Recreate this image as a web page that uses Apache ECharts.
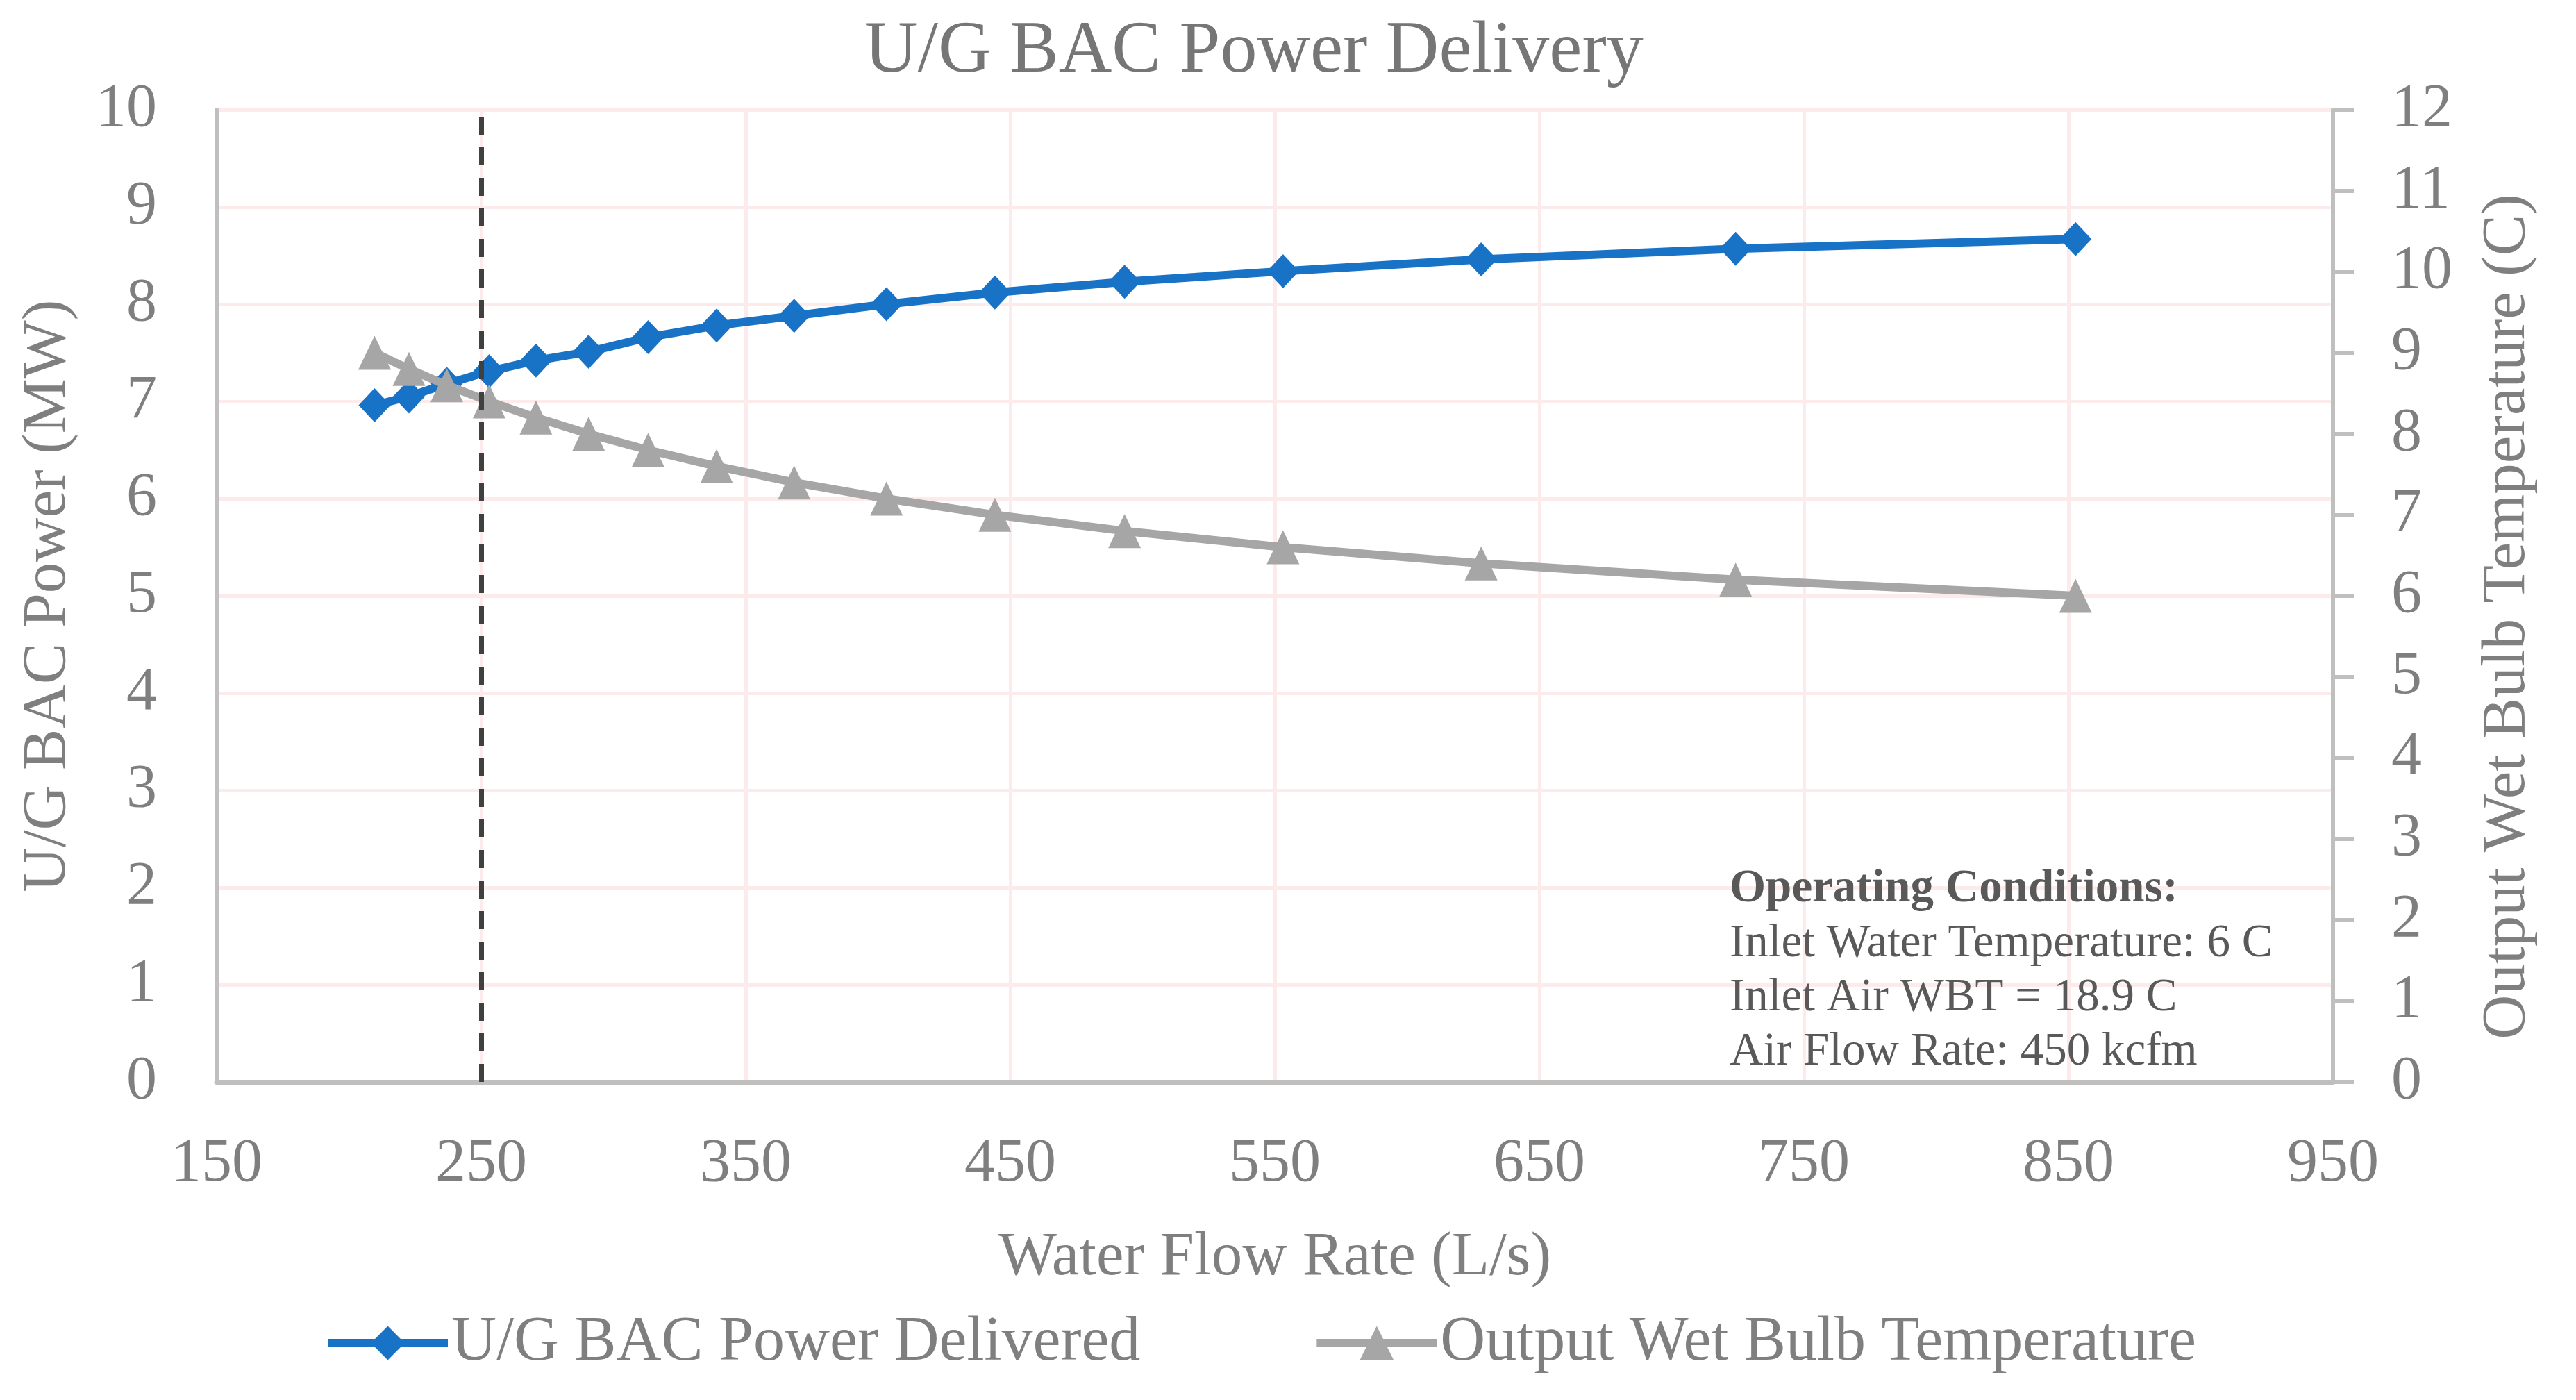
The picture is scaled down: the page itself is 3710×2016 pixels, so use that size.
<!DOCTYPE html>
<html><head><meta charset="utf-8">
<script src="https://cdn.jsdelivr.net/npm/echarts@6/dist/echarts.min.js"></script>
<style>html,body{margin:0;padding:0;background:#fff}#c{width:3710px;height:2016px}</style>
</head><body><div id="c"></div>
<script>
// ---- data ----
const flowRate = [209.7, 222.7, 237, 253, 270.7, 290.6, 313.1, 339, 368.3, 403.2, 444.2, 493.2, 553.1, 628, 724.2, 852.7];
const powerMW  = [6.96, 7.05, 7.18, 7.31, 7.42, 7.51, 7.66, 7.78, 7.88, 8.00, 8.12, 8.23, 8.34, 8.46, 8.57, 8.67];
const wetBulbC = [9.0, 8.8, 8.6, 8.4, 8.2, 8.0, 7.8, 7.6, 7.4, 7.2, 7.0, 6.8, 6.6, 6.4, 6.2, 6.0];
const designFlow = 250;
const xRange = [150, 950, 100];
const powerRange = [0, 10, 1];
const tempRange = [0, 12, 1];
const seriesNames = ['U/G BAC Power Delivered', 'Output Wet Bulb Temperature'];
const titleText = 'U/G BAC Power Delivery';
const xName = 'Water Flow Rate (L/s)';
const yLeftName = 'U/G BAC Power (MW)';
const yRightName = 'Output Wet Bulb Temperature (C)';
const noteTitle = 'Operating Conditions:';
const noteLines = ['Inlet Water Temperature: 6 C', 'Inlet Air WBT = 18.9 C', 'Air Flow Rate: 450 kcfm'];

// ---- styling ----
const FONT = 'Liberation Serif';
const TXT = '#7F7F7F';
const AXIS = '#BFBFBF';
const GRID = '#FDEAEA';
const BLUE = '#1872C6';
const GREY = '#A6A6A6';

const chart = echarts.init(document.getElementById('c'), null, {renderer: 'canvas'});
const powerData = flowRate.map((x, i) => [x, powerMW[i]]);
const tempData = flowRate.map((x, i) => [x, wetBulbC[i]]);

chart.setOption({
  animation: false,
  backgroundColor: '#ffffff',
  title: {
    text: titleText, left: 1240, top: 17,
    textStyle: {fontFamily: FONT, fontSize: 106, fontWeight: 'normal', color: '#767676'}
  },
  grid: {left: 312, right: 350, top: 158, bottom: 458, containLabel: false, outerBoundsMode: 'none'},
  legend: {
    left: 466, top: 1889, padding: 0, itemGap: 248,
    itemWidth: 173, itemHeight: 61,
    lineStyle: {width: 12},
    textStyle: {fontFamily: FONT, fontSize: 90, color: TXT},
    data: seriesNames
  },
  xAxis: {
    type: 'value', min: xRange[0], max: xRange[1], interval: xRange[2],
    name: xName, nameLocation: 'middle', nameGap: 209, nameMoveOverlap: false,
    nameTextStyle: {fontFamily: FONT, fontSize: 89, color: TXT},
    axisLine: {show: true, onZero: false, lineStyle: {color: AXIS, width: 7}},
    axisTick: {show: false},
    axisLabel: {fontFamily: FONT, fontSize: 88, color: TXT, margin: 75, hideOverlap: false},
    splitLine: {show: true, lineStyle: {color: GRID, width: 5}}
  },
  yAxis: [{
    type: 'value', position: 'left', min: powerRange[0], max: powerRange[1], interval: powerRange[2],
    name: yLeftName, nameLocation: 'middle', nameRotate: 90, nameGap: 198, nameMoveOverlap: false,
    nameTextStyle: {fontFamily: FONT, fontSize: 89, color: TXT},
    axisLine: {show: true, lineStyle: {color: AXIS, width: 6}},
    axisTick: {show: false},
    axisLabel: {fontFamily: FONT, fontSize: 88, color: TXT, margin: 86},
    splitLine: {show: true, lineStyle: {color: GRID, width: 5}}
  }, {
    type: 'value', position: 'right', min: tempRange[0], max: tempRange[1], interval: tempRange[2],
    name: yRightName, nameLocation: 'middle', nameRotate: 90, nameGap: 207, nameMoveOverlap: false,
    nameTextStyle: {fontFamily: FONT, fontSize: 89, color: TXT, padding: [0, 60, 0, 0]},
    axisLine: {show: true, lineStyle: {color: AXIS, width: 6}},
    axisTick: {show: true, inside: false, length: 30, lineStyle: {color: AXIS, width: 6}},
    axisLabel: {fontFamily: FONT, fontSize: 88, color: TXT, margin: 84},
    splitLine: {show: false}
  }],
  series: [{
    name: seriesNames[0], type: 'line', yAxisIndex: 0, data: powerData,
    symbol: 'diamond', symbolSize: [46, 49], showAllSymbol: true,
    lineStyle: {color: BLUE, width: 12}, itemStyle: {color: BLUE}, z: 2
  }, {
    name: seriesNames[1], type: 'line', yAxisIndex: 1, data: tempData,
    symbol: 'triangle', symbolSize: [47, 49], showAllSymbol: true,
    lineStyle: {color: GREY, width: 12}, itemStyle: {color: GREY}, z: 3,
    markLine: {
      silent: true, symbol: ['none', 'none'], label: {show: false}, animation: false,
      lineStyle: {color: '#404040', width: 7, type: [26, 18]},
      emphasis: {disabled: true},
      data: [{xAxis: designFlow}]
    }
  }],
  graphic: [{
    type: 'text', x: 2491, y: 1242, z: 10,
    style: {
      text: '{b|' + noteTitle + '}\n' + noteLines.map(s => '{n|' + s + '}').join('\n'),
      verticalAlign: 'top', align: 'left',
      rich: {
        b: {fontFamily: FONT, fontSize: 67, fontWeight: 'bold', lineHeight: 78, fill: '#595959'},
        n: {fontFamily: FONT, fontSize: 67, lineHeight: 78, fill: '#595959'}
      }
    }
  }]
});
</script></body></html>
